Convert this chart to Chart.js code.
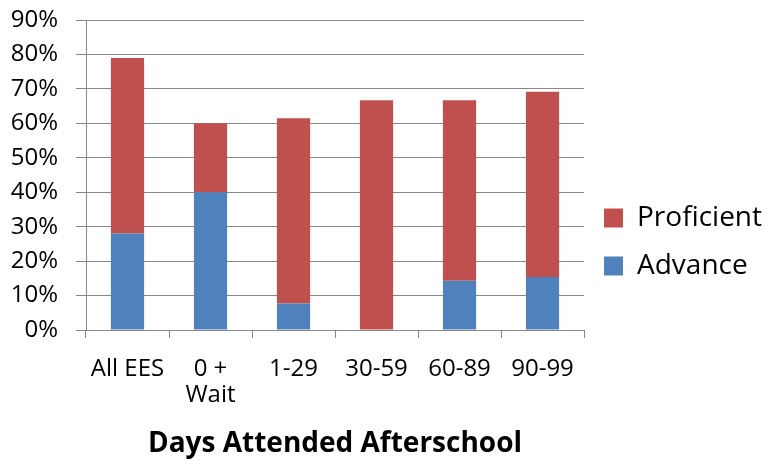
<!DOCTYPE html>
<html>
<head>
<meta charset="utf-8">
<script src="https://cdn.jsdelivr.net/npm/chart.js@4/dist/chart.umd.min.js"></script>
<style>
html,body{margin:0;padding:0;background:#fff;}
#wrap{width:768px;height:464px;}
</style>
</head>
<body>
<div id="wrap"><canvas id="c" width="768" height="464"></canvas></div>
<script>
const categories = [["All EES"], ["0 +", "Wait"], ["1-29"], ["30-59"], ["60-89"], ["90-99"]];
const advance = [28, 40, 7.7, 0, 14.3, 15.4];
const proficient = [51, 20, 53.8, 66.7, 52.4, 53.8];
const yTicks = [0, 10, 20, 30, 40, 50, 60, 70, 80, 90];
const xTitle = "Days Attended Afterschool";

const FONT = "'Open Sans', sans-serif";
const GRID = '#888888';

new Chart(document.getElementById('c'), {
  type: 'bar',
  data: {
    labels: categories,
    datasets: [
      { label: 'Advance', data: advance, backgroundColor: '#4F81BD', barPercentage: 0.4, categoryPercentage: 1.0 },
      { label: 'Proficient', data: proficient, backgroundColor: '#C0504D', barPercentage: 0.4, categoryPercentage: 1.0 }
    ]
  },
  options: {
    responsive: false,
    animation: false,
    layout: { padding: { left: 0, right: -4, top: 20, bottom: 0 } },
    plugins: {
      legend: {
        position: 'right',
        reverse: true,
        labels: {
          font: { family: FONT, size: 28 },
          color: '#000',
          boxWidth: 19,
          boxHeight: 19,
          padding: 20
        }
      },
      tooltip: { enabled: false }
    },
    scales: {
      x: {
        stacked: true,
        afterFit: (s) => { s.height = 134; s.paddingLeft = 0; s.paddingRight = 0; },
        grid: { offset: true, drawOnChartArea: false, color: GRID, tickLength: 8, lineWidth: 1 },
        border: { color: GRID, width: 1 },
        ticks: { font: { family: FONT, size: 24, lineHeight: 1.05 }, color: '#000', maxRotation: 0, padding: 19 },
        title: { display: true, text: xTitle, font: { family: FONT, size: 28, weight: 'bold' }, color: '#000', padding: { top: 6, bottom: 3 } }
      },
      y: {
        stacked: true,
        min: 0, max: 90,
        afterFit: (s) => { s.width = 86; s.paddingTop = 0; s.paddingBottom = 0; },
        afterBuildTicks: (s) => { s.ticks = yTicks.map(v => ({ value: v })); },
        grid: { color: GRID, tickLength: 10, lineWidth: 1 },
        border: { color: GRID, width: 1 },
        ticks: { font: { family: FONT, size: 24 }, color: '#000', padding: 18, callback: (v) => v + '%' }
      }
    }
  }
});
</script>
</body>
</html>
